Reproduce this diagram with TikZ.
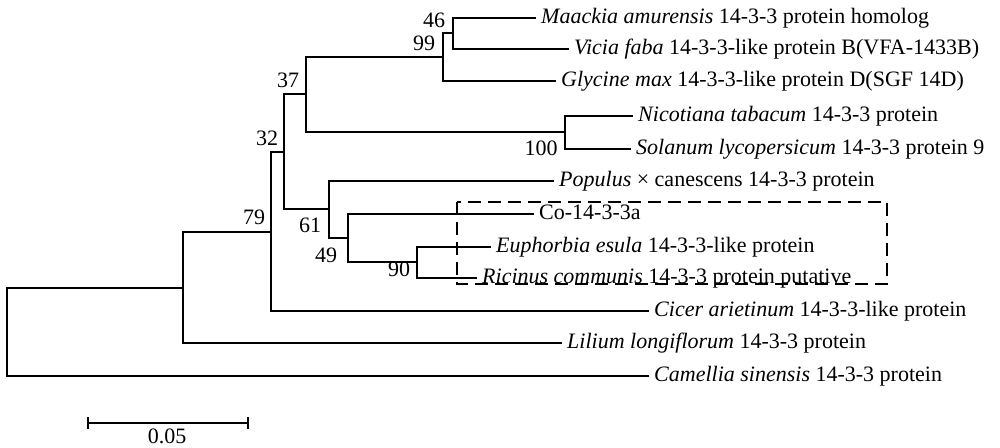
\documentclass[tikz,border=0pt]{standalone}
\usepackage{fontspec}
\setmainfont{Liberation Serif}
\begin{document}
\begin{tikzpicture}[x=1pt,y=-1pt,
  branch/.style={line width=2.1pt, line cap=rect},
  leaf/.style={anchor=base west, inner sep=0pt, xshift=6pt, yshift=-5.5pt, font=\fontsize{22}{26}\selectfont},
  boot/.style={anchor=center, inner sep=0pt, font=\fontsize{22}{26}\selectfont},
  box/.style={line width=2.3pt, dash pattern=on 13pt off 7pt}]
\useasboundingbox (0,0) rectangle (1000,447);
% leaves
\coordinate (L1) at (535,18);
\coordinate (L2) at (568,49);
\coordinate (L3) at (555,81);
\coordinate (L4) at (632,116);
\coordinate (L5) at (630,149);
\coordinate (L6) at (553,181);
\coordinate (L7) at (533,214);
\coordinate (L8) at (490,247);
\coordinate (L9) at (476,278);
\coordinate (L10) at (648,311);
\coordinate (L11) at (561,343);
\coordinate (L12) at (648,376);
% internal nodes
\coordinate (n46) at (453,33);
\coordinate (n99) at (443,57);
\coordinate (n100) at (565,132);
\coordinate (n37) at (306,94);
\coordinate (n90) at (417,262);
\coordinate (n49) at (348,238);
\coordinate (n61) at (329,209);
\coordinate (n32) at (284,152);
\coordinate (n79) at (271,232);
\coordinate (nL) at (183,288);
\coordinate (root) at (7,332);
% branches
\draw[branch] (n46) |- (L1);
\draw[branch] (n46) |- (L2);
\draw[branch] (n99) |- (n46);
\draw[branch] (n99) |- (L3);
\draw[branch] (n100) |- (L4);
\draw[branch] (n100) |- (L5);
\draw[branch] (n37) |- (n99);
\draw[branch] (n37) |- (n100);
\draw[branch] (n90) |- (L8);
\draw[branch] (n90) |- (L9);
\draw[branch] (n49) |- (L7);
\draw[branch] (n49) |- (n90);
\draw[branch] (n61) |- (L6);
\draw[branch] (n61) |- (n49);
\draw[branch] (n32) |- (n37);
\draw[branch] (n32) |- (n61);
\draw[branch] (n79) |- (n32);
\draw[branch] (n79) |- (L10);
\draw[branch] (nL) |- (n79);
\draw[branch] (nL) |- (L11);
\draw[branch] (root) |- (nL);
\draw[branch] (root) |- (L12);
% leaf labels
\node[leaf] (t1) at (L1) {\textit{Maackia amurensis} 14-3-3 protein homolog};
\node[leaf] (t2) at (L2) {\textit{Vicia faba} 14-3-3-like protein B(VFA-1433B)};
\node[leaf] (t3) at (L3) {\textit{Glycine max} 14-3-3-like protein D(SGF 14D)};
\node[leaf] (t4) at (L4) {\textit{Nicotiana tabacum} 14-3-3 protein};
\node[leaf] (t5) at (L5) {\textit{Solanum lycopersicum} 14-3-3 protein 9};
\node[leaf] (t6) at (L6) {\textit{Populus} × canescens 14-3-3 protein};
\node[leaf] (t7) at (L7) {Co-14-3-3a};
\node[leaf] (t8) at (L8) {\textit{Euphorbia esula} 14-3-3-like protein};
\node[leaf] (t9) at (L9) {\textit{Ricinus communis} 14-3-3 protein putative};
\node[leaf] (t10) at (L10) {\textit{Cicer arietinum} 14-3-3-like protein};
\node[leaf] (t11) at (L11) {\textit{Lilium longiflorum} 14-3-3 protein};
\node[leaf] (t12) at (L12) {\textit{Camellia sinensis} 14-3-3 protein};
% bootstrap values
\node[boot] (b46) at (434,20) {46};
\node[boot] (b99) at (424,43) {99};
\node[boot] (b100) at (541,148) {100};
\node[boot] (b37) at (288,80) {37};
\node[boot] (b32) at (267,138) {32};
\node[boot] (b79) at (254,217) {79};
\node[boot] (b61) at (310,225) {61};
\node[boot] (b49) at (326,255) {49};
\node[boot] (b90) at (399,269) {90};
% dashed box
\coordinate (bx1) at (457,202);
\coordinate (bx2) at (887,284);
\draw[box] (bx1) rectangle (bx2);
% scale bar
\coordinate (s1) at (88,423);
\coordinate (s2) at (248,423);
\draw[branch, line cap=butt] (s1) -- (s2);
\draw[branch, line cap=butt] ([yshift=-6pt]s1) -- ([yshift=6pt]s1);
\draw[branch, line cap=butt] ([yshift=-6pt]s2) -- ([yshift=6pt]s2);
\node[boot] (sl) at (167,436) {0.05};
\end{tikzpicture}
\end{document}
